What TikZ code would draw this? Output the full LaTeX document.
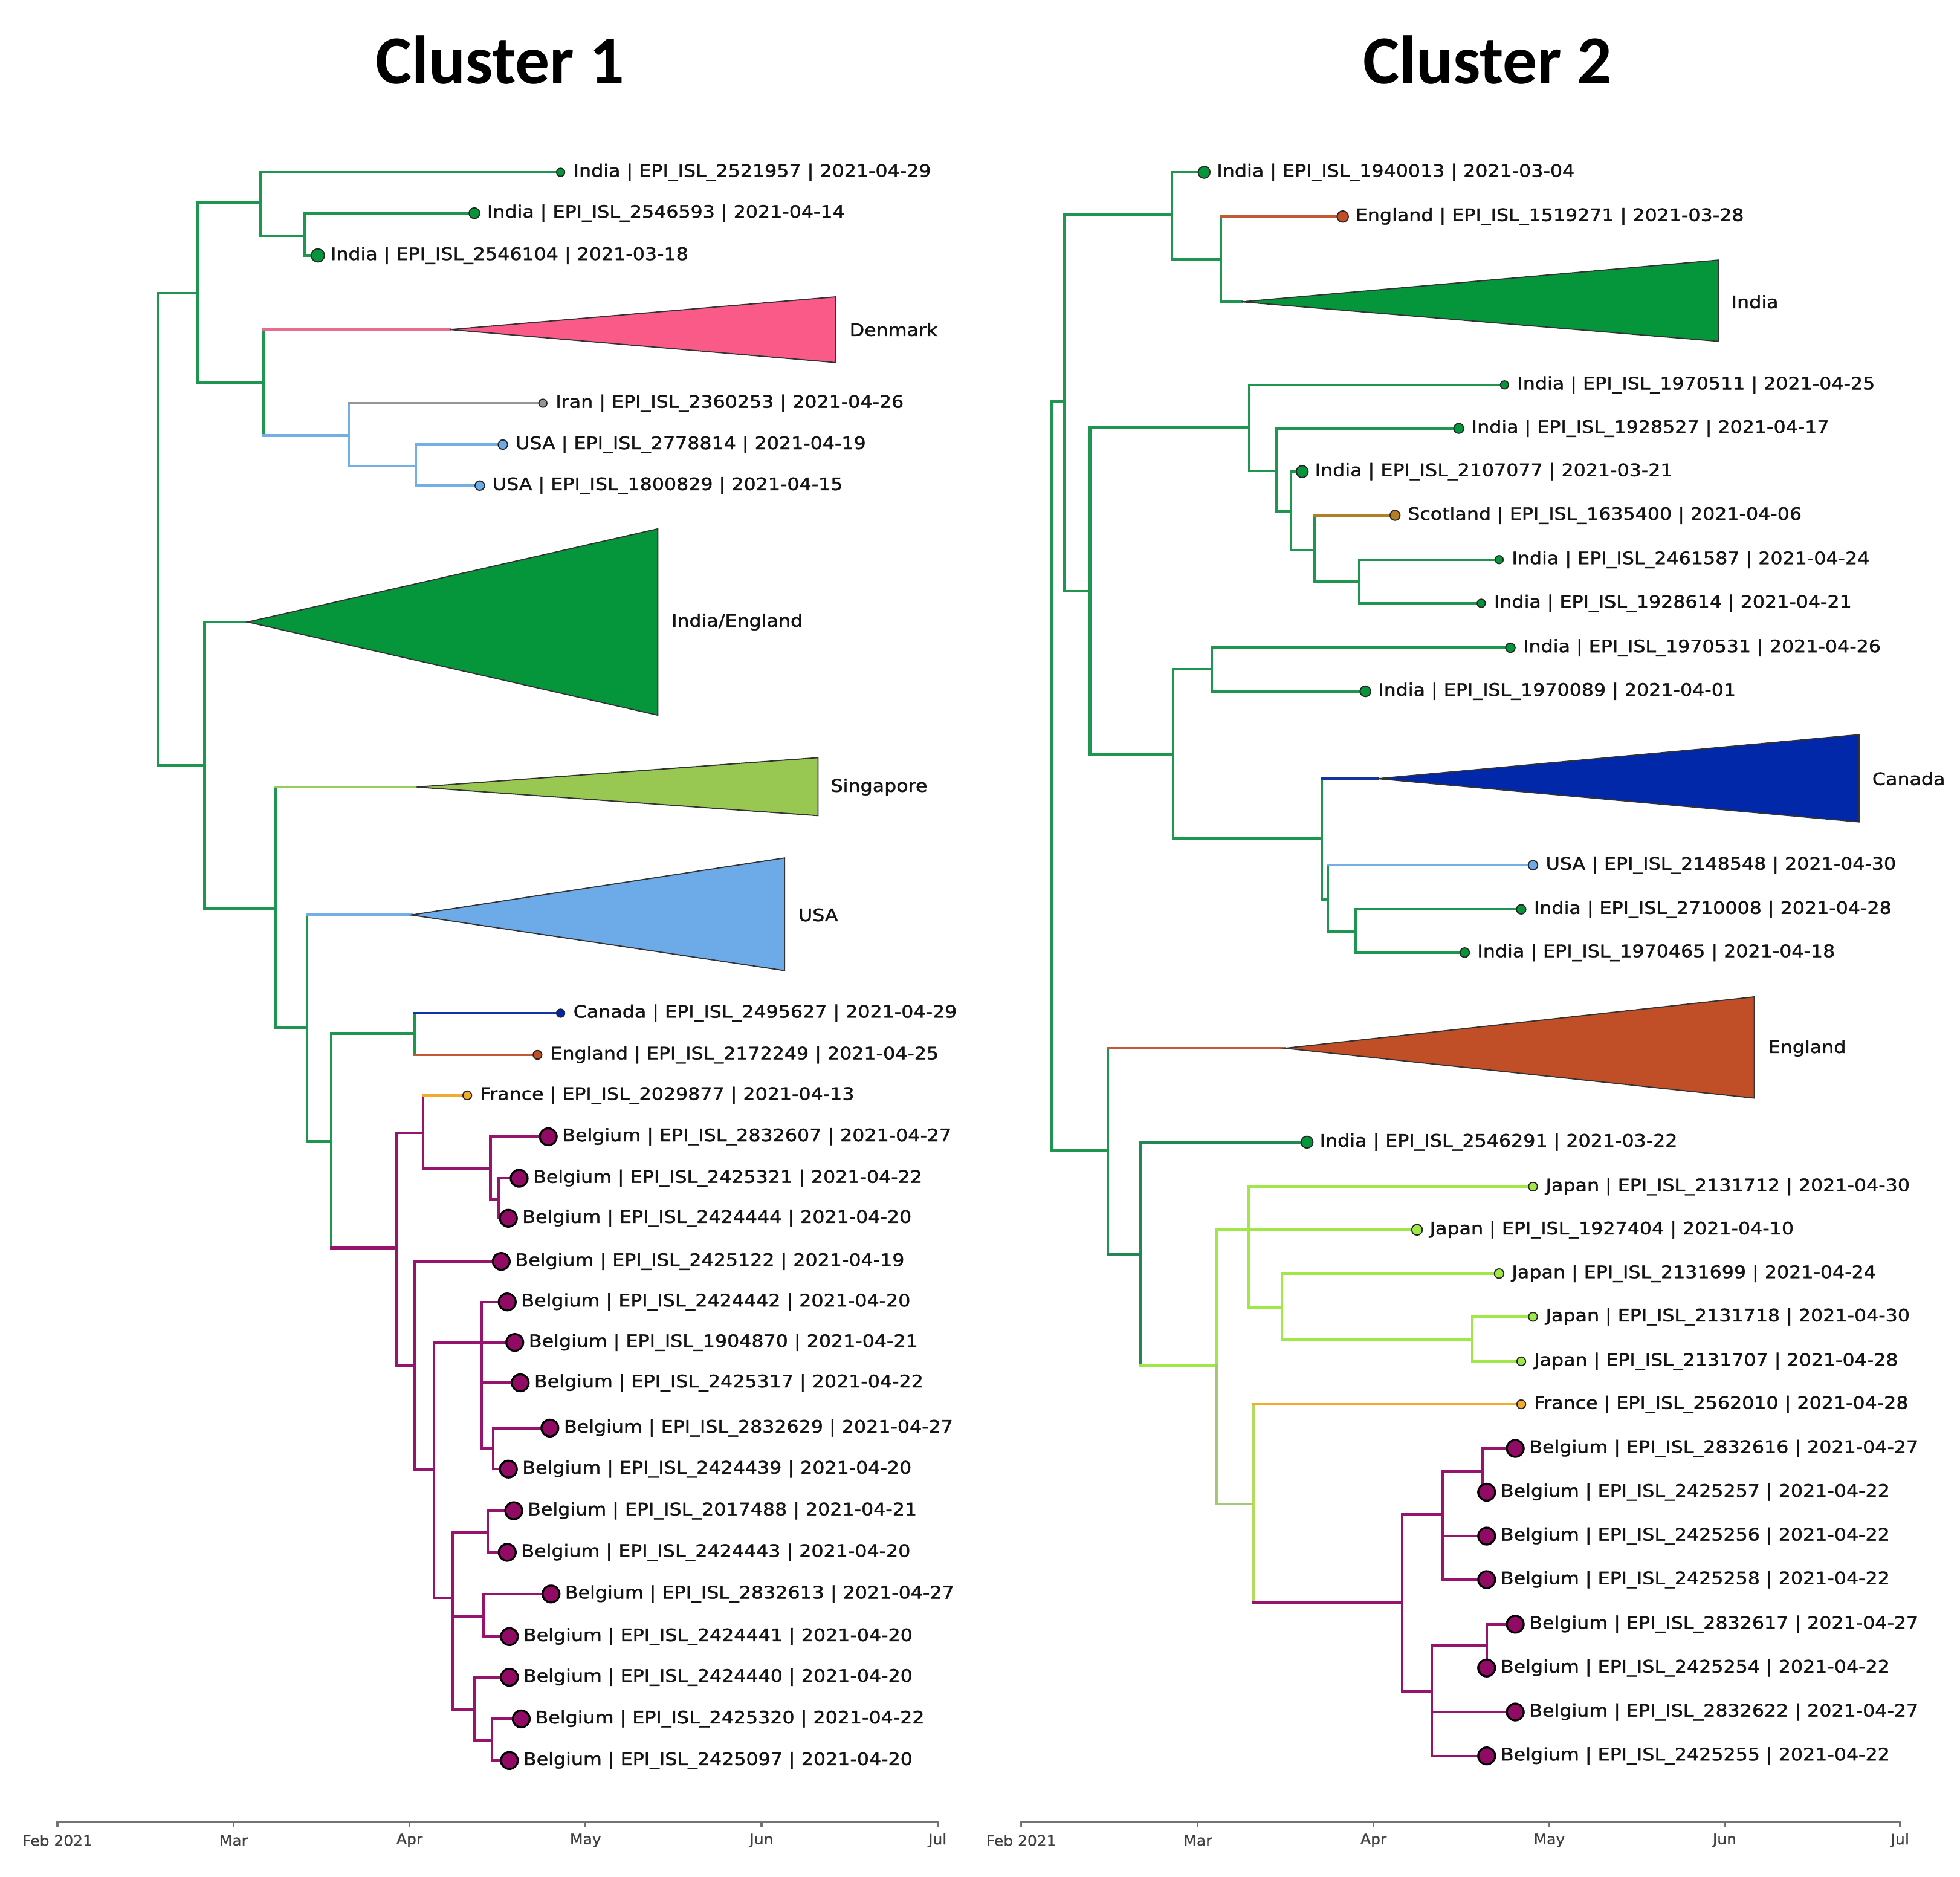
\documentclass[tikz,border=0pt]{standalone}
\usepackage{fontspec}
\setmainfont{DejaVu Sans}
\newfontfamily\labfont[FakeStretch=1.11,FakeBold=1.4]{DejaVu Sans}
\newfontfamily\tickfont[FakeStretch=1.05,FakeBold=0.8]{DejaVu Sans}
\newfontfamily\titlefont{Carlito}
\usetikzlibrary{calc}
\definecolor{gl}{RGB}{30,150,80}
\definecolor{gf}{RGB}{5,150,60}
\definecolor{pinkl}{RGB}{230,110,140}
\definecolor{pinkf}{RGB}{250,90,135}
\definecolor{bluel}{RGB}{115,175,228}
\definecolor{bluef}{RGB}{108,170,232}
\definecolor{grayl}{RGB}{150,150,150}
\definecolor{canl}{RGB}{20,50,160}
\definecolor{canf}{RGB}{0,40,168}
\definecolor{engl}{RGB}{195,90,55}
\definecolor{engf}{RGB}{192,78,38}
\definecolor{fral}{RGB}{242,172,45}
\definecolor{sgl}{RGB}{150,205,95}
\definecolor{sgf}{RGB}{152,200,82}
\definecolor{scol}{RGB}{178,128,35}
\definecolor{purl}{RGB}{150,20,110}
\definecolor{purf}{RGB}{145,10,100}
\definecolor{japl}{RGB}{160,232,70}
\definecolor{tealg}{RGB}{35,135,85}
\definecolor{qlow}{RGB}{165,200,115}
\definecolor{ucol}{RGB}{180,218,95}
\newcommand{\hb}[3]{\draw[br,#3] (#1 |- #2) -- (#2);}
\newcommand{\vb}[4]{\draw[br,#4] (#1 |- #2) -- (#1 |- #3);}
\newcommand{\mkleaf}[6]{%
  \node[tipc, minimum size=#4pt, fill=#5] (#1) at (#2,#3) {};
  \node[lab] (#1-l) at ($(#1.center)+(10,0)$) {#6};}
\newcommand{\mkbel}[5]{%
  \node[belc] (#1) at (#2,#3) {};
  \node[lab] (#1-l) at ($(#1.center)+(11,0)$) {Belgium | EPI\_ISL\_#4 | 2021-04-#5};}
\newcommand{\mktri}[7]{% name, apex x, apex y, right x, top y, bottom y, fill
  \coordinate (#1) at (#2,#3);
  \coordinate (#1-t) at (#4,#5);
  \coordinate (#1-b) at (#4,#6);
  \filldraw[tri, fill=#7] (#1) -- (#1-t) -- (#1-b) -- cycle;}
\begin{document}
\begin{tikzpicture}[x=1pt,y=-1pt,
  br/.style={line width=2.1pt, line cap=rect},
  tipc/.style={circle, draw=black!85, line width=0.9pt, inner sep=0pt},
  belc/.style={circle, draw=black, line width=1.6pt, inner sep=0pt, minimum size=13.5pt, fill=purf},
  lab/.style={anchor=west, inner sep=0pt, font=\labfont\fontsize{13.8}{16}\selectfont, text=black!92},
  tri/.style={draw=black!80, line width=0.9pt, line join=miter},
  ttl/.style={font=\titlefont\bfseries\fontsize{55}{60}\selectfont, text=black},
  axl/.style={line width=1.6pt, draw=black!55},
  tick/.style={font=\tickfont\fontsize{11.5}{13}\selectfont, text=black!75, inner sep=0pt}]
\useasboundingbox[fill=white] (0,0) rectangle (1568,1501);

% ---------------- titles
\node[ttl] (title1) at (400,48) {Cluster 1};
\node[ttl] (title2) at (1190,48) {Cluster 2};

% ================= CLUSTER 1 =================
\coordinate (Lroot) at (126.1,423);
\coordinate (LA) at (158.4,234.5);
\coordinate (LB) at (208.1,161.9);
\coordinate (LC) at (243.5,188.6);
\coordinate (LD) at (211.1,306.2);
\coordinate (LE) at (278.9,348.3);
\coordinate (LF) at (332.8,372.8);
\coordinate (LG) at (163.6,612.2);
\coordinate (LH) at (220.2,726.4);
\coordinate (LI) at (245.6,822.2);
\coordinate (LJ) at (265.1,912.8);
\coordinate (LK) at (332,826.5);
\coordinate (LL) at (316.9,998.1);
\coordinate (LM) at (338.5,906);
\coordinate (LN) at (392.4,934.4);
\coordinate (LO) at (398.9,959.3);
\coordinate (LP) at (332,1092);
\coordinate (LQ) at (347.1,1175.7);
\coordinate (LR) at (385.1,1073.7);
\coordinate (LS) at (394.6,1158.5);
\coordinate (LT) at (362.2,1277.9);
\coordinate (LU) at (390.3,1225.6);
\coordinate (LV) at (386.8,1292.7);
\coordinate (LW) at (379.5,1367.4);
\coordinate (LX) at (393.7,1392.1);
\coordinate (dk) at (360,263.6);
\coordinate (ie) at (198.1,497.5);
\coordinate (sg) at (333.3,629.5);
\coordinate (us) at (329,731.8);

\coordinate (t1) at (448.5,137.8);
\coordinate (t2) at (379.5,170.5);
\coordinate (t3) at (254.3,204.3);
\coordinate (t4) at (434.3,322.5);
\coordinate (t5) at (402.3,355.6);
\coordinate (t6) at (383.8,388.4);
\coordinate (t7) at (448.5,810.3);
\coordinate (t8) at (430,843.7);
\coordinate (t9) at (373.8,876.1);
\coordinate (b1) at (438.6,909.2);
\coordinate (b2) at (415.3,942.4);
\coordinate (b3) at (406.7,974.4);
\coordinate (b4) at (401,1008.9);
\coordinate (b5) at (405.8,1041.3);
\coordinate (b6) at (411.8,1073.7);
\coordinate (b7) at (416.2,1106);
\coordinate (b8) at (439.9,1142.2);
\coordinate (b9) at (406.7,1175);
\coordinate (b10) at (411,1208.3);
\coordinate (b11) at (405.8,1241.6);
\coordinate (b12) at (440.8,1274.9);
\coordinate (b13) at (407.5,1309);
\coordinate (b14) at (407.5,1341.5);
\coordinate (b15) at (417,1374.8);
\coordinate (b16) at (407.5,1408.1);

% branches
\vb{Lroot}{LA}{LG}{gl} \hb{Lroot}{LA}{gl} \hb{Lroot}{LG}{gl}
\vb{LA}{LB}{LD}{gl} \hb{LA}{LB}{gl} \hb{LA}{LD}{gl}
\vb{LB}{t1}{LC}{gl} \hb{LB}{t1}{gl} \hb{LB}{LC}{gl}
\vb{LC}{t2}{t3}{gl} \hb{LC}{t2}{gl} \hb{LC}{t3}{gl}
\vb{LD}{dk}{LE}{gl} \hb{LD}{dk}{pinkl} \hb{LD}{LE}{bluel}
\vb{LE}{t4}{LF}{bluel} \hb{LE}{t4}{grayl} \hb{LE}{LF}{bluel}
\vb{LF}{t5}{t6}{bluel} \hb{LF}{t5}{bluel} \hb{LF}{t6}{bluel}
\vb{LG}{ie}{LH}{gl} \hb{LG}{ie}{gl} \hb{LG}{LH}{gl}
\vb{LH}{sg}{LI}{gl} \hb{LH}{sg}{sgl} \hb{LH}{LI}{gl}
\vb{LI}{us}{LJ}{gl} \hb{LI}{us}{bluel} \hb{LI}{LJ}{gl}
\vb{LJ}{LK}{LL}{gl} \hb{LJ}{LK}{gl} \hb{LJ}{LL}{purl}
\vb{LK}{t7}{t8}{gl} \hb{LK}{t7}{canl} \hb{LK}{t8}{engl}
\vb{LL}{LM}{LP}{purl} \hb{LL}{LM}{purl} \hb{LL}{LP}{purl}
\vb{LM}{t9}{LN}{purl} \hb{LM}{t9}{fral} \hb{LM}{LN}{purl}
\vb{LN}{b1}{LO}{purl} \hb{LN}{b1}{purl} \hb{LN}{LO}{purl}
\vb{LO}{b2}{b3}{purl} \hb{LO}{b2}{purl} \hb{LO}{b3}{purl}
\vb{LP}{b4}{LQ}{purl} \hb{LP}{b4}{purl} \hb{LP}{LQ}{purl}
\vb{LQ}{LR}{LT}{purl} \hb{LQ}{LR}{purl} \hb{LQ}{LT}{purl}
\vb{LR}{b5}{LS}{purl} \hb{LR}{b5}{purl} \hb{LR}{b6}{purl} \hb{LR}{b7}{purl} \hb{LR}{LS}{purl}
\vb{LS}{b8}{b9}{purl} \hb{LS}{b8}{purl} \hb{LS}{b9}{purl}
\vb{LT}{LU}{LW}{purl} \hb{LT}{LU}{purl} \hb{LT}{LV}{purl} \hb{LT}{LW}{purl}
\vb{LU}{b10}{b11}{purl} \hb{LU}{b10}{purl} \hb{LU}{b11}{purl}
\vb{LV}{b12}{b13}{purl} \hb{LV}{b12}{purl} \hb{LV}{b13}{purl}
\vb{LW}{b14}{LX}{purl} \hb{LW}{b14}{purl} \hb{LW}{LX}{purl}
\vb{LX}{b15}{b16}{purl} \hb{LX}{b15}{purl} \hb{LX}{b16}{purl}

% collapsed clades
\mktri{dk}{360}{263.6}{668.7}{237.4}{290}{pinkf}
\mktri{ie}{198.1}{497.5}{526.2}{423}{572}{gf}
\mktri{sg}{333.3}{629.5}{654.4}{606}{652.4}{sgf}
\mktri{us}{329}{731.8}{627.7}{686.2}{776.3}{bluef}
\node[lab] (dk-l) at (679.5,263.6) {Denmark};
\node[lab] (ie-l) at (537,497.5) {India/England};
\node[lab] (sg-l) at (664.4,629.5) {Singapore};
\node[lab] (us-l) at (638.5,731.8) {USA};

% tips
\mkleaf{t1}{448.5}{137.8}{6.5}{gf}{India | EPI\_ISL\_2521957 | 2021-04-29}
\mkleaf{t2}{379.5}{170.5}{8.5}{gf}{India | EPI\_ISL\_2546593 | 2021-04-14}
\mkleaf{t3}{254.3}{204.3}{10.5}{gf}{India | EPI\_ISL\_2546104 | 2021-03-18}
\mkleaf{t4}{434.3}{322.5}{6.5}{grayl}{Iran | EPI\_ISL\_2360253 | 2021-04-26}
\mkleaf{t5}{402.3}{355.6}{7.5}{bluef}{USA | EPI\_ISL\_2778814 | 2021-04-19}
\mkleaf{t6}{383.8}{388.4}{7.5}{bluef}{USA | EPI\_ISL\_1800829 | 2021-04-15}
\mkleaf{t7}{448.5}{810.3}{6.5}{canf}{Canada | EPI\_ISL\_2495627 | 2021-04-29}
\mkleaf{t8}{430}{843.7}{7}{engf}{England | EPI\_ISL\_2172249 | 2021-04-25}
\mkleaf{t9}{373.8}{876.1}{7}{fral}{France | EPI\_ISL\_2029877 | 2021-04-13}
\mkbel{b1}{438.6}{909.2}{2832607}{27}
\mkbel{b2}{415.3}{942.4}{2425321}{22}
\mkbel{b3}{406.7}{974.4}{2424444}{20}
\mkbel{b4}{401}{1008.9}{2425122}{19}
\mkbel{b5}{405.8}{1041.3}{2424442}{20}
\mkbel{b6}{411.8}{1073.7}{1904870}{21}
\mkbel{b7}{416.2}{1106}{2425317}{22}
\mkbel{b8}{439.9}{1142.2}{2832629}{27}
\mkbel{b9}{406.7}{1175}{2424439}{20}
\mkbel{b10}{411}{1208.3}{2017488}{21}
\mkbel{b11}{405.8}{1241.6}{2424443}{20}
\mkbel{b12}{440.8}{1274.9}{2832613}{27}
\mkbel{b13}{407.5}{1309}{2424441}{20}
\mkbel{b14}{407.5}{1341.5}{2424440}{20}
\mkbel{b15}{417}{1374.8}{2425320}{22}
\mkbel{b16}{407.5}{1408.1}{2425097}{20}

% ================= CLUSTER 2 =================
\coordinate (Rroot) at (841,620);
\coordinate (Ra) at (851.5,321.1);
\coordinate (Rb) at (937.6,171.9);
\coordinate (Rc) at (976.6,207.3);
\coordinate (Rd) at (872,472.8);
\coordinate (Re) at (999.5,341.8);
\coordinate (Rf) at (1020.9,376.8);
\coordinate (Rg) at (1032.8,409.1);
\coordinate (Rh) at (1051.8,440);
\coordinate (Ri) at (1087.5,465.3);
\coordinate (Rj) at (938.6,603.7);
\coordinate (Rk) at (969.5,535.3);
\coordinate (Rl) at (1057.5,670.9);
\coordinate (Rm) at (1062.3,719.4);
\coordinate (Rn) at (1084.6,745.2);
\coordinate (Ro) at (886.2,920.4);
\coordinate (Rp) at (912.4,1003.1);
\coordinate (Rq) at (973.3,1092);
\coordinate (Rr) at (999,983.6);
\coordinate (Rs) at (1025.6,1045.6);
\coordinate (Rt) at (1177.9,1071.5);
\coordinate (Ru) at (1002.8,1202.9);
\coordinate (Rv) at (1121.8,1281.8);
\coordinate (Rw) at (1154.1,1211.3);
\coordinate (Rx) at (1186,1176.7);
\coordinate (Ry) at (1145.5,1352.6);
\coordinate (Rz) at (1189.3,1316.4);
\coordinate (in) at (993.3,241.4);
\coordinate (ca) at (1101.8,622.8);
\coordinate (en) at (1028,838.4);

\coordinate (s1) at (963.3,137.8);
\coordinate (s2) at (1074.2,173.2);
\coordinate (s3) at (1203.6,307.9);
\coordinate (s4) at (1167,342.6);
\coordinate (s5) at (1041.8,377.2);
\coordinate (s6) at (1116,412.2);
\coordinate (s7) at (1199.3,447.6);
\coordinate (s8) at (1185,482.5);
\coordinate (s9) at (1208.3,518.1);
\coordinate (s10) at (1092.3,552.9);
\coordinate (s11) at (1226.4,692);
\coordinate (s12) at (1216.9,727.3);
\coordinate (s13) at (1171.7,761.9);
\coordinate (s14) at (1045.6,913.5);
\coordinate (s15) at (1226.4,949.1);
\coordinate (s16) at (1133.6,983.6);
\coordinate (s17) at (1199.3,1018.6);
\coordinate (s18) at (1226.4,1053.2);
\coordinate (s19) at (1217,1088.8);
\coordinate (s20) at (1217,1123.2);
\coordinate (c1) at (1212.2,1158.5);
\coordinate (c2) at (1189.3,1193.5);
\coordinate (c3) at (1189.3,1228.6);
\coordinate (c4) at (1189.3,1263.4);
\coordinate (c5) at (1212.2,1299.1);
\coordinate (c6) at (1189.3,1334.1);
\coordinate (c7) at (1212.2,1369.3);
\coordinate (c8) at (1189.3,1404.4);

% branches
\vb{Rroot}{Ra}{Ro}{gl} \hb{Rroot}{Ra}{gl} \hb{Rroot}{Ro}{gl}
\vb{Ra}{Rb}{Rd}{gl} \hb{Ra}{Rb}{gl} \hb{Ra}{Rd}{gl}
\vb{Rb}{s1}{Rc}{gl} \hb{Rb}{s1}{gl} \hb{Rb}{Rc}{gl}
\vb{Rc}{s2}{in}{gl} \hb{Rc}{s2}{engl} \hb{Rc}{in}{gl}
\vb{Rd}{Re}{Rj}{gl} \hb{Rd}{Re}{gl} \hb{Rd}{Rj}{gl}
\vb{Re}{s3}{Rf}{gl} \hb{Re}{s3}{gl} \hb{Re}{Rf}{gl}
\vb{Rf}{s4}{Rg}{gl} \hb{Rf}{s4}{gl} \hb{Rf}{Rg}{gl}
\vb{Rg}{s5}{Rh}{gl} \hb{Rg}{s5}{gl} \hb{Rg}{Rh}{gl}
\vb{Rh}{s6}{Ri}{gl} \hb{Rh}{s6}{scol} \hb{Rh}{Ri}{gl}
\vb{Ri}{s7}{s8}{gl} \hb{Ri}{s7}{gl} \hb{Ri}{s8}{gl}
\vb{Rj}{Rk}{Rl}{gl} \hb{Rj}{Rk}{gl} \hb{Rj}{Rl}{gl}
\vb{Rk}{s9}{s10}{gl} \hb{Rk}{s9}{gl} \hb{Rk}{s10}{gl}
\vb{Rl}{ca}{Rm}{gl} \hb{Rl}{ca}{canl} \hb{Rl}{Rm}{gl}
\vb{Rm}{s11}{Rn}{gl} \hb{Rm}{s11}{bluel} \hb{Rm}{Rn}{gl}
\vb{Rn}{s12}{s13}{gl} \hb{Rn}{s12}{gl} \hb{Rn}{s13}{gl}
\vb{Ro}{en}{Rp}{gl} \hb{Ro}{en}{engl} \hb{Ro}{Rp}{tealg}
\vb{Rp}{s14}{Rq}{tealg} \hb{Rp}{s14}{tealg} \hb{Rp}{Rq}{japl}
\vb{Rq}{Rr}{Rq}{japl} \vb{Rq}{Rq}{Ru}{qlow} \hb{Rq}{Rr}{japl} \hb{Rq}{Ru}{qlow}
\vb{Rr}{s15}{Rs}{japl} \hb{Rr}{s15}{japl} \hb{Rr}{s16}{japl} \hb{Rr}{Rs}{japl}
\vb{Rs}{s17}{Rt}{japl} \hb{Rs}{s17}{japl} \hb{Rs}{Rt}{japl}
\vb{Rt}{s18}{s19}{japl} \hb{Rt}{s18}{japl} \hb{Rt}{s19}{japl}
\vb{Ru}{s20}{Rv}{ucol} \hb{Ru}{s20}{fral} \hb{Ru}{Rv}{purl}
\vb{Rv}{Rw}{Ry}{purl} \hb{Rv}{Rw}{purl} \hb{Rv}{Ry}{purl}
\vb{Rw}{Rx}{c4}{purl} \hb{Rw}{Rx}{purl} \hb{Rw}{c3}{purl} \hb{Rw}{c4}{purl}
\vb{Rx}{c1}{c2}{purl} \hb{Rx}{c1}{purl} \hb{Rx}{c2}{purl}
\vb{Ry}{Rz}{c8}{purl} \hb{Ry}{Rz}{purl} \hb{Ry}{c7}{purl} \hb{Ry}{c8}{purl}
\vb{Rz}{c5}{c6}{purl} \hb{Rz}{c5}{purl} \hb{Rz}{c6}{purl}

% collapsed clades
\mktri{in}{993.3}{241.4}{1374.9}{208}{273}{gf}
\mktri{ca}{1101.8}{622.8}{1487.2}{587.6}{657.4}{canf}
\mktri{en}{1028}{838.4}{1403.4}{797.3}{878.3}{engf}
\node[lab] (in-l) at (1384.9,241.4) {India};
\node[lab] (ca-l) at (1497.6,622.8) {Canada};
\node[lab] (en-l) at (1414.4,838.4) {England};

% tips
\mkleaf{s1}{963.3}{137.8}{9.5}{gf}{India | EPI\_ISL\_1940013 | 2021-03-04}
\mkleaf{s2}{1074.2}{173.2}{9}{engf}{England | EPI\_ISL\_1519271 | 2021-03-28}
\mkleaf{s3}{1203.6}{307.9}{6.5}{gf}{India | EPI\_ISL\_1970511 | 2021-04-25}
\mkleaf{s4}{1167}{342.6}{8}{gf}{India | EPI\_ISL\_1928527 | 2021-04-17}
\mkleaf{s5}{1041.8}{377.2}{9.5}{gf}{India | EPI\_ISL\_2107077 | 2021-03-21}
\mkleaf{s6}{1116}{412.2}{8}{scol}{Scotland | EPI\_ISL\_1635400 | 2021-04-06}
\mkleaf{s7}{1199.3}{447.6}{6.5}{gf}{India | EPI\_ISL\_2461587 | 2021-04-24}
\mkleaf{s8}{1185}{482.5}{6.5}{gf}{India | EPI\_ISL\_1928614 | 2021-04-21}
\mkleaf{s9}{1208.3}{518.1}{7.5}{gf}{India | EPI\_ISL\_1970531 | 2021-04-26}
\mkleaf{s10}{1092.3}{552.9}{8.5}{gf}{India | EPI\_ISL\_1970089 | 2021-04-01}
\mkleaf{s11}{1226.4}{692}{7.5}{bluef}{USA | EPI\_ISL\_2148548 | 2021-04-30}
\mkleaf{s12}{1216.9}{727.3}{7.5}{gf}{India | EPI\_ISL\_2710008 | 2021-04-28}
\mkleaf{s13}{1171.7}{761.9}{7.5}{gf}{India | EPI\_ISL\_1970465 | 2021-04-18}
\mkleaf{s14}{1045.6}{913.5}{9.5}{gf}{India | EPI\_ISL\_2546291 | 2021-03-22}
\mkleaf{s15}{1226.4}{949.1}{7}{japl}{Japan | EPI\_ISL\_2131712 | 2021-04-30}
\mkleaf{s16}{1133.6}{983.6}{8.5}{japl}{Japan | EPI\_ISL\_1927404 | 2021-04-10}
\mkleaf{s17}{1199.3}{1018.6}{7.5}{japl}{Japan | EPI\_ISL\_2131699 | 2021-04-24}
\mkleaf{s18}{1226.4}{1053.2}{7}{japl}{Japan | EPI\_ISL\_2131718 | 2021-04-30}
\mkleaf{s19}{1217}{1088.8}{7}{japl}{Japan | EPI\_ISL\_2131707 | 2021-04-28}
\mkleaf{s20}{1217}{1123.2}{7}{fral}{France | EPI\_ISL\_2562010 | 2021-04-28}
\mkbel{c1}{1212.2}{1158.5}{2832616}{27}
\mkbel{c2}{1189.3}{1193.5}{2425257}{22}
\mkbel{c3}{1189.3}{1228.6}{2425256}{22}
\mkbel{c4}{1189.3}{1263.4}{2425258}{22}
\mkbel{c5}{1212.2}{1299.1}{2832617}{27}
\mkbel{c6}{1189.3}{1334.1}{2425254}{22}
\mkbel{c7}{1212.2}{1369.3}{2832622}{27}
\mkbel{c8}{1189.3}{1404.4}{2425255}{22}

% ================= AXES =================
\coordinate (ax1a) at (46,1457);
\coordinate (ax1b) at (750,1457);
\draw[axl] (ax1a) -- (ax1b);
\coordinate (ax2a) at (817,1457);
\coordinate (ax2b) at (1520,1457);
\draw[axl] (ax2a) -- (ax2b);
\foreach \x/\m [count=\i] in {46/Feb 2021,186.8/Mar,327.6/Apr,468.4/May,609.2/Jun,750/Jul}{
  \coordinate (k1-\i) at (\x,1457);
  \draw[axl] (k1-\i) -- ++(0,4);
  \node[tick] (k1l-\i) at (\x,1472) {\m};
}
\foreach \x/\m [count=\i] in {817/Feb 2021,958.2/Mar,1098.8/Apr,1239.4/May,1379.6/Jun,1520/Jul}{
  \coordinate (k2-\i) at (\x,1457);
  \draw[axl] (k2-\i) -- ++(0,4);
  \node[tick] (k2l-\i) at (\x,1472) {\m};
}
\end{tikzpicture}
\end{document}
